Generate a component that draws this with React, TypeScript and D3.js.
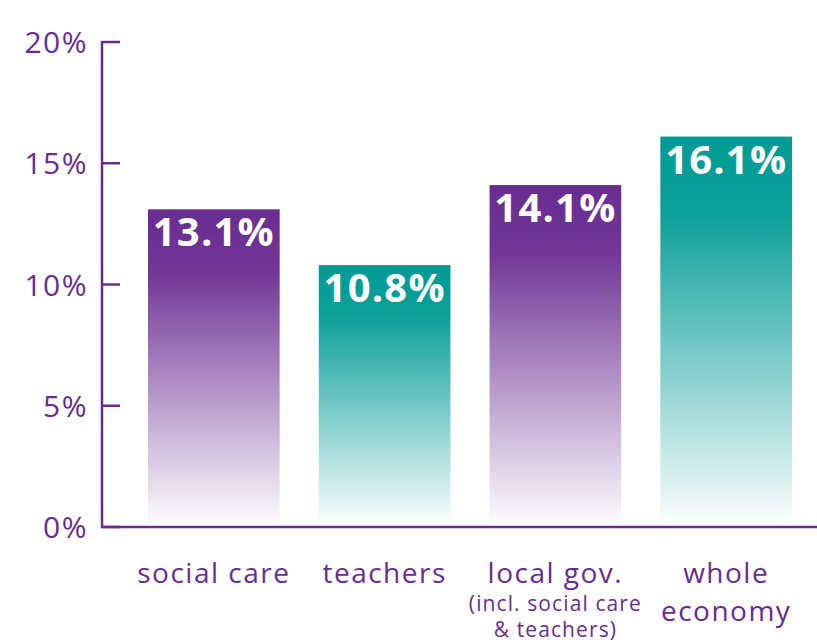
import React from "react";
import * as d3 from "d3";

const categories = ["social care", "teachers", "local gov.", "whole economy"];
const values = [13.1, 10.8, 14.1, 16.1];
const barColors = ["#6a2c91", "#009b95", "#6a2c91", "#009b95"];
const tickValues = [0, 5, 10, 15, 20];
const labelLines = [["social care"], ["teachers"], ["local gov."], ["whole", "economy"]];
const subLines = [[], [], ["(incl. social care", "& teachers)"], []];

const W = 817;
const H = 643;
const axisColor = "#6a2c91";
const font = "'Open Sans', 'Noto Sans', sans-serif";

export default function App() {
  const y = d3.scaleLinear().domain([0, 20]).range([527, 42]);
  const x = d3.scaleBand().domain(categories).range([148, 792]).paddingInner(0.229).paddingOuter(0);
  const bw = x.bandwidth();
  return (
    <svg width={W} height={H} style={{ position: "absolute", left: 0, top: 0 }}>
      <defs>
        {barColors.map((c, i) => (
          <linearGradient key={i} id={`g${i}`} x1="0" y1="0" x2="0" y2="1">
            <stop offset="0" stopColor={c} stopOpacity={1} />
            <stop offset="0.2" stopColor={c} stopOpacity={0.95} />
            <stop offset="1" stopColor={c} stopOpacity={0.02} />
          </linearGradient>
        ))}
      </defs>
      {categories.map((c, i) => {
        const x0 = x(c)!;
        const top = y(values[i]);
        return (
          <g key={c}>
            <rect x={x0} y={top} width={bw} height={523 - top} fill={`url(#g${i})`} />
            <text x={x0 + bw / 2} y={top + 37} textAnchor="middle" fill="#fff" fontFamily={font} fontWeight={700} fontSize={40} letterSpacing={1.2}>
              {values[i].toFixed(1)}%
            </text>
            {labelLines[i].map((l, j) => (
              <text key={j} x={x0 + bw / 2} y={583 + j * 38} textAnchor="middle" fill={axisColor} fontFamily={font} fontSize={28} letterSpacing={1.5}>
                {l}
              </text>
            ))}
            {subLines[i].map((l, j) => (
              <text key={"s" + j} x={x0 + bw / 2} y={611 + j * 26} textAnchor="middle" fill={axisColor} fontFamily={font} fontSize={21} letterSpacing={1.1}>
                {l}
              </text>
            ))}
          </g>
        );
      })}
      <line x1={102} x2={102} y1={41} y2={528} stroke={axisColor} strokeWidth={2.5} />
      <line x1={101} x2={817} y1={527} y2={527} stroke={axisColor} strokeWidth={2.5} />
      {tickValues.map((t) => (
        <g key={t}>
          <line x1={102} x2={120} y1={y(t)} y2={y(t)} stroke={axisColor} strokeWidth={2.5} />
          <text x={88} y={y(t) + 11} textAnchor="end" fill={axisColor} fontFamily={font} fontSize={30} letterSpacing={1.5}>
            {t}%
          </text>
        </g>
      ))}
    </svg>
  );
}
